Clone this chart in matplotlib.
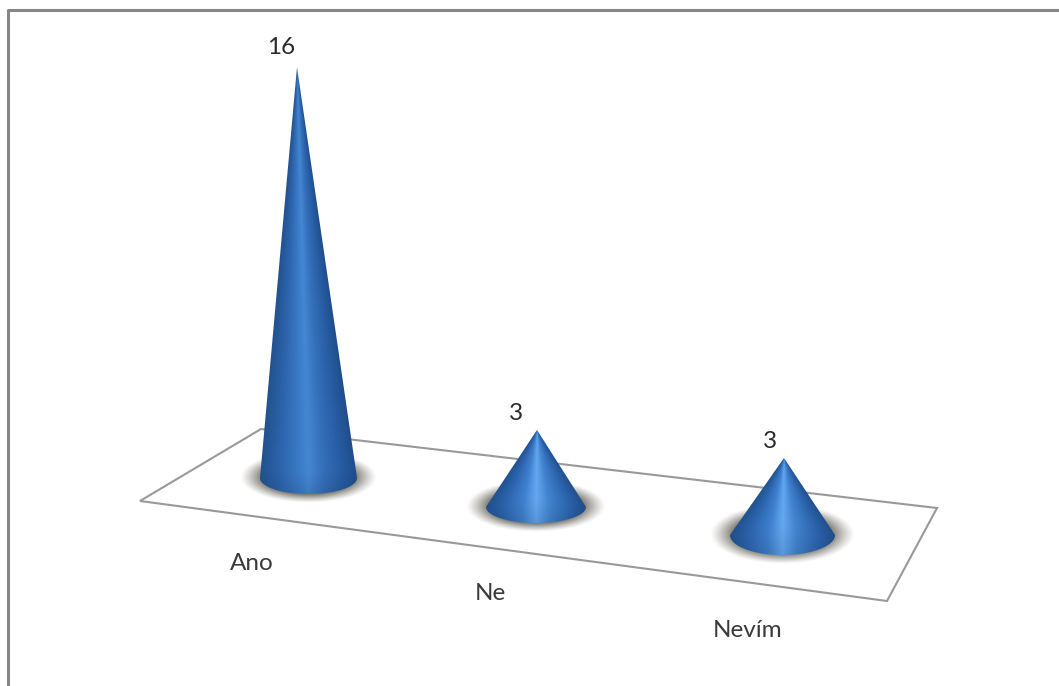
import numpy as np
import matplotlib
matplotlib.use("Agg")
import matplotlib.pyplot as plt
from matplotlib.colors import LinearSegmentedColormap
from matplotlib.patches import Polygon, PathPatch
from matplotlib.path import Path

categories = ["Ano", "Ne", "Nevím"]
values = [16, 3, 3]

# layout of the fake 3D scene, in pixels
px_per_unit = 25.67
base_x = [308.5, 536, 782.5]
base_y = [478, 507, 535]
apex_x = [297, 537, 784]
half_w = [48.5, 50, 52.5]
base_ry = [16, 16, 20]
label_xy = [(281, 47.5), (516, 413.5), (770, 441.5)]
cat_xy = [(252, 563.5), (490, 593.5), (748, 630.5)]
floor = [(261, 429), (937, 508), (887, 601), (140, 501)]

cone_cmap = LinearSegmentedColormap.from_list(
    "cone",
    [(0.0, "#22528f"), (0.15, "#2a62ab"), (0.36, "#3f80cf"),
     (0.5, "#63a8f0"), (0.64, "#4283d0"), (0.85, "#2b63ac"), (1.0, "#214f8c")],
)
tall_cmap = LinearSegmentedColormap.from_list(
    "cone_tall",
    [(0.0, "#22528f"), (0.18, "#2b62a9"), (0.4, "#3b7ac7"),
     (0.5, "#4587d3"), (0.65, "#3570bb"), (0.87, "#255a9f"), (1.0, "#204d8a")],
)

fig = plt.figure(figsize=(10.59, 6.86), dpi=100)
ax = fig.add_axes([0, 0, 1, 1])
ax.set_xlim(0, 1059)
ax.set_ylim(686, 0)
ax.axis("off")

# outer chart frame, the bottom runs off the canvas
ax.plot([8, 8, 1059], [686, 10, 10], color="#868686", lw=2.2, zorder=1)

ax.add_patch(Polygon(floor, closed=True, fill=False, edgecolor="#999999", lw=1.5, zorder=2))


def draw_shadow(cx, cy, rx, ry):
    xs = np.arange(cx - rx - 30, cx + rx + 30)
    ys = np.arange(cy - ry - 30, cy + ry + 30)
    xx, yy = np.meshgrid(xs, ys)
    r = np.hypot((xx - cx) / rx, (yy - cy) / ry)
    alpha = np.clip((1.0 - r) / 0.32, 0, 1) ** 1.2 * 0.85
    rgba = np.zeros(xx.shape + (4,))
    rgba[..., :3] = np.array([0.40, 0.39, 0.36])
    rgba[..., 3] = alpha
    ax.imshow(rgba, extent=[xs[0], xs[-1], ys[-1], ys[0]], aspect="auto",
              zorder=3, interpolation="bilinear")


def draw_cone(ax_, x0, y0, xtip, ytip, w, ry, cmap):
    # silhouette: two sides down to the base, then the front half of the ellipse
    theta = np.linspace(0, np.pi, 60)
    edge = np.column_stack([x0 + w * np.cos(theta), y0 + ry * np.sin(theta)])
    verts = np.vstack([[xtip, ytip], edge, [xtip, ytip]])
    codes = [Path.MOVETO] + [Path.LINETO] * (len(verts) - 2) + [Path.CLOSEPOLY]
    clip = PathPatch(Path(verts, codes), transform=ax_.transData, fc="none", ec="none")
    ax_.add_patch(clip)

    xs = np.arange(x0 - w - 2, x0 + w + 3, 0.5)
    ys = np.arange(ytip - 1, y0 + ry + 2, 0.5)
    xx, yy = np.meshgrid(xs, ys)
    t = np.clip((yy - ytip) / (y0 - ytip), 0.002, 1)
    centre = xtip + t * (x0 - xtip)
    u = np.clip((xx - centre) / (t * w), -1, 1)
    rgba = cmap((u + 1) / 2)
    # front of the base falls away into a slightly darker rim
    depth = np.clip((yy - y0 + 0.5 * ry) / (1.5 * ry), 0, 1)
    rgba[..., :3] *= (1 - 0.10 * depth)[..., None]
    im = ax_.imshow(rgba, extent=[xs[0], xs[-1], ys[-1], ys[0]], aspect="auto",
                    zorder=4, interpolation="bilinear")
    im.set_clip_path(clip)


for i, v in enumerate(values):
    h = v * px_per_unit
    draw_shadow(base_x[i], base_y[i] - 1, half_w[i] + 20, base_ry[i] + 10)
    draw_cone(ax, base_x[i], base_y[i], apex_x[i], base_y[i] - h, half_w[i], base_ry[i],
              tall_cmap if v > 10 else cone_cmap)
    ax.text(*label_xy[i], str(v), ha="center", va="center", fontsize=17.5,
            family="Lato", color="#2b2b2b", zorder=5)
    ax.text(*cat_xy[i], categories[i], ha="center", va="center", fontsize=17.5,
            family="Lato", color="#3a3a3a", zorder=5)

ax.set_xlim(0, 1059)
ax.set_ylim(686, 0)
fig.savefig("out.png", dpi=100, facecolor="white")
